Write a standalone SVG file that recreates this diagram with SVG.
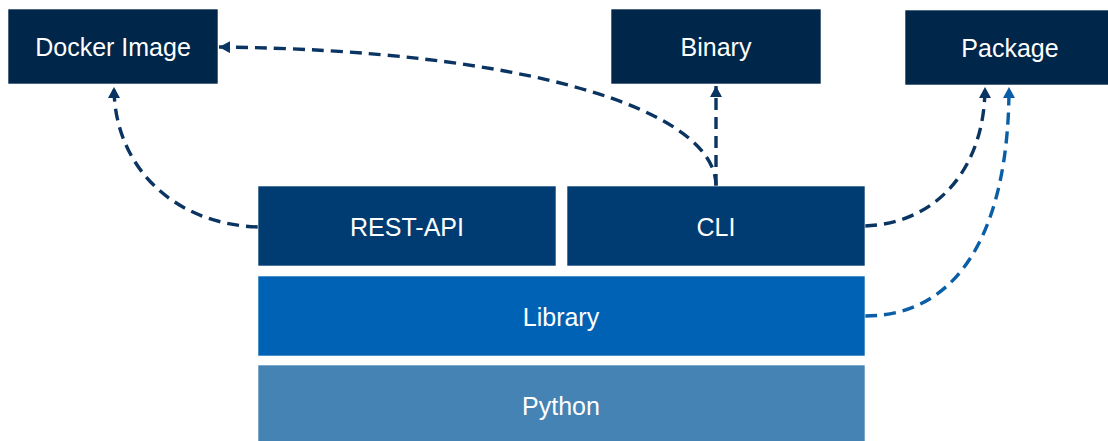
<svg xmlns="http://www.w3.org/2000/svg" width="1108" height="441" viewBox="0 0 1108 441">
<defs>
<style>
.box{stroke:#ffffff;stroke-width:0.6}
.top{fill:#00264A}
.mid{fill:#003C71}
.lib{fill:#0062B4}
.py{fill:#4583B4}
.lbl{font-family:"Liberation Sans",Arial,sans-serif;font-size:25px;fill:#ffffff;text-anchor:middle}
.con{fill:none;stroke-width:3.4;stroke-dasharray:12 7}
.dark{stroke:#0A3461}
.blue{stroke:#0A5EA6}
</style>
<marker id="ahD" markerUnits="userSpaceOnUse" markerWidth="14" markerHeight="14" refX="11" refY="6" orient="auto">
<path d="M0,0 L11,6 L0,12 Z" fill="#0A3461"/>
</marker>
<marker id="ahB" markerUnits="userSpaceOnUse" markerWidth="14" markerHeight="14" refX="11" refY="6" orient="auto">
<path d="M0,0 L11,6 L0,12 Z" fill="#0A5EA6"/>
</marker>
</defs>
<rect width="1108" height="441" fill="#ffffff"/>
<g id="connectors">
<path class="con dark" d="M258,227 C172,224 114,165 114,87" marker-end="url(#ahD)"/>
<path class="con dark" d="M716,186 C716,108 520,50 219,47" marker-end="url(#ahD)"/>
<path class="con dark" d="M716,186 L716,86" marker-end="url(#ahD)"/>
<path class="con dark" d="M865,226 C940,223 985,165 985,87" marker-end="url(#ahD)"/>
<path class="con blue" d="M865,316 C965,316 1009,220 1009,87" marker-end="url(#ahB)"/>
</g>
<g id="docker">
<rect class="box top" x="8" y="9" width="210" height="75"/>
<text class="lbl" x="113" y="56">Docker Image</text>
</g>
<g id="binary">
<rect class="box top" x="611" y="9" width="210" height="75"/>
<text class="lbl" x="716" y="56">Binary</text>
</g>
<g id="package">
<rect class="box top" x="905" y="10" width="210" height="75"/>
<text class="lbl" x="1010" y="57">Package</text>
</g>
<g id="restapi">
<rect class="box mid" x="258" y="186" width="298" height="80"/>
<text class="lbl" x="407" y="236">REST-API</text>
</g>
<g id="cli">
<rect class="box mid" x="567" y="186" width="298" height="80"/>
<text class="lbl" x="716" y="236">CLI</text>
</g>
<g id="library">
<rect class="box lib" x="258" y="276" width="607" height="80"/>
<text class="lbl" x="561" y="326">Library</text>
</g>
<g id="python">
<rect class="box py" x="258" y="365" width="607" height="80"/>
<text class="lbl" x="561" y="415">Python</text>
</g>
</svg>
